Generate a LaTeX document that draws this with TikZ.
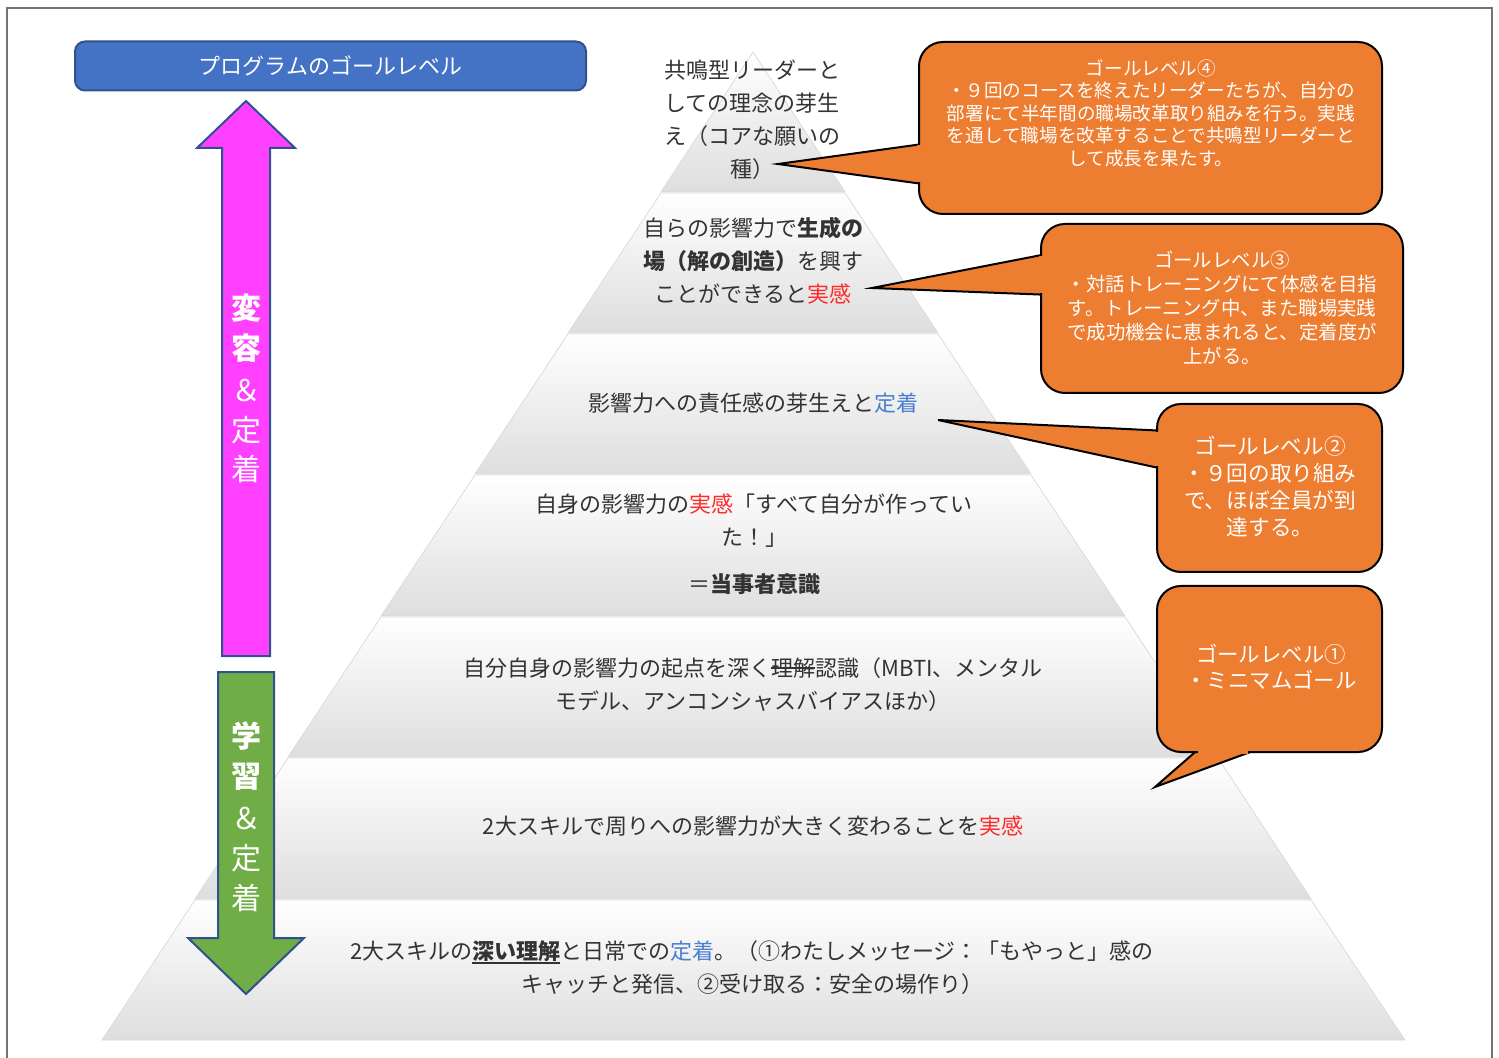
\documentclass[tikz,border=0pt]{standalone}
\usepackage{fontspec}
\setmainfont{Noto Sans CJK JP}
\newcommand{\mystrike}[1]{\begingroup\setbox0\hbox{#1}\rlap{\raisebox{0.33em}{\rule{\wd0}{0.08em}}}\box0\endgroup}
\newcommand{\myuline}[1]{\begingroup\setbox0\hbox{#1}\rlap{\raisebox{-0.22em}{\rule{\wd0}{0.09em}}}\box0\endgroup}
\definecolor{txt}{HTML}{333333}
\definecolor{orng}{HTML}{ED7D31}
\definecolor{titleblue}{HTML}{4472C4}
\definecolor{edgeblue}{HTML}{2F528F}
\definecolor{mag}{HTML}{FF40FF}
\definecolor{grn}{HTML}{70AD47}
\definecolor{redt}{HTML}{FF2A2A}
\definecolor{bluet}{HTML}{4A7FD0}
\tikzset{
  seg/.style={top color=white, middle color=white, bottom color=black!13, draw=black!14, line width=0.4pt},
  ptext/.style={text=txt, font=\fontsize{11}{16.5}\selectfont, align=center, inner sep=0pt},
  callout/.style={fill=orng, draw=black, line width=1pt, rounded corners=12pt},
  ctail/.style={fill=orng, draw=black, line width=1pt},
  ctext/.style={text=white, align=center, inner sep=0pt},
  arrowtext/.style={text=white, font=\fontsize{15}{20}\selectfont, inner sep=0pt},
}
\begin{document}
\begin{tikzpicture}[x=0.5pt,y=-0.5pt]
\useasboundingbox (0,0) rectangle (1499,1058);
% frame
\draw[black!55, line width=1pt] (7,1080) -- (7,8) -- (1492,8) -- (1492,1080);

% pyramid
\path[seg] (753,52) -- (845,192) -- (661,192) -- cycle;
\path[seg] (661,193) -- (845,193) -- (938,333) -- (568,333) -- cycle;
\path[seg] (568,334) -- (938,334) -- (1031,474) -- (475,474) -- cycle;
\path[seg] (475,475) -- (1031,475) -- (1125,616) -- (381,616) -- cycle;
\path[seg] (381,617) -- (1125,617) -- (1218,757) -- (288,757) -- cycle;
\path[seg] (288,758) -- (1218,758) -- (1311,899) -- (195,899) -- cycle;
\path[seg] (195,900) -- (1311,900) -- (1405,1040) -- (102,1040) -- cycle;

% title bar
\node[fill=titleblue, draw=edgeblue, line width=1pt, rounded corners=5pt, minimum width=511*0.5pt, minimum height=49*0.5pt, text=white, font=\fontsize{11}{13}\selectfont, inner sep=0pt] (title) at (330.5,66) {プログラムのゴールレベル};

% arrows
\path[fill=mag, draw=edgeblue, line width=1pt] (246,101) -- (295,148) -- (270,148) -- (270,656) -- (222,656) -- (222,148) -- (197,148) -- cycle;
\path[fill=grn, draw=edgeblue, line width=1pt] (218,672) -- (274,672) -- (274,938) -- (304,938) -- (246,994) -- (188,938) -- (218,938) -- cycle;
\node[arrowtext] (u1) at (246,308) {\bfseries 変};
\node[arrowtext] (u2) at (246,348) {\bfseries 容};
\node[arrowtext] (u3) at (246,390) {＆};
\node[arrowtext] (u4) at (246,430) {定};
\node[arrowtext] (u5) at (246,469) {着};
\node[arrowtext] (d1) at (246,736) {\bfseries 学};
\node[arrowtext] (d2) at (246,777) {\bfseries 習};
\node[arrowtext] (d3) at (246,818) {＆};
\node[arrowtext] (d4) at (246,858) {定};
\node[arrowtext] (d5) at (246,898) {着};

% pyramid texts
\node[ptext] (lv1) at (752,119.5) {共鳴型リーダーと\\しての理念の芽生\\え（コアな願いの\\種）};
\node[ptext] (lv2) at (753,261) {自らの影響力で\textbf{生成の}\\\textbf{場（解の創造）}を興す\\ことができると\textcolor{redt}{実感}};
\node[ptext] (lv3) at (753,403) {影響力への責任感の芽生えと\textcolor{bluet}{定着}};
\node[ptext] (lv4) at (754,520.5) {自身の影響力の\textcolor{redt}{実感}「すべて自分が作ってい\\た！」};
\node[ptext] (lv4b) at (754,584) {＝\textbf{当事者意識}};
\node[ptext] (lv5) at (753,684.5) {自分自身の影響力の起点を深く\mystrike{理解}認識（MBTI、メンタル\\モデル、アンコンシャスバイアスほか）};
\node[ptext] (lv6) at (753,826) {2大スキルで周りへの影響力が大きく変わることを\textcolor{redt}{実感}};
\node[ptext] (lv7) at (752,967.5) {2大スキルの\myuline{\textbf{深い理解}}と日常での\textcolor{bluet}{定着}。（①わたしメッセージ：「もやっと」感の\\キャッチと発信、②受け取る：安全の場作り）};

% callout 4
\path[ctail] (930,143) -- (778,164) -- (930,185);
\path[callout] (919,42) rectangle (1382,214);
\fill[orng] (917,145.5) rectangle (921.5,182.5);
\node[ctext, font=\fontsize{9.3}{11.25}\selectfont] (c4) at (1151,113) {ゴールレベル④\\・９回のコースを終えたリーダーたちが、自分の\\部署にて半年間の職場改革取り組みを行う。実践\\を通して職場を改革することで共鳴型リーダーと\\して成長を果たす。};

% callout 3
\path[ctail] (1052,253) -- (872,288) -- (1052,295);
\path[callout] (1041,224) rectangle (1403,393);
\fill[orng] (1039,256) rectangle (1043.5,293.5);
\node[ctext, font=\fontsize{9.7}{12}\selectfont] (c3) at (1222,308) {ゴールレベル③\\・対話トレーニングにて体感を目指\\す。トレーニング中、また職場実践\\で成功機会に恵まれると、定着度が\\上がる。};

% callout 2
\path[ctail] (1168,431) -- (938,420) -- (1168,470);
\path[callout] (1157,404) rectangle (1382,572);
\fill[orng] (1155,432) rectangle (1159.5,466.5);
\node[ctext, font=\fontsize{10.8}{13.5}\selectfont] (c2) at (1270,486.5) {ゴールレベル②\\・９回の取り組み\\で、ほぼ全員が到\\達する。};

% callout 1
\path[ctail] (1209,740) -- (1155,787) -- (1283,740);
\path[callout] (1157,586) rectangle (1382,752);
\fill[orng] (1197.5,750) rectangle (1247.5,754);
\node[ctext, font=\fontsize{10.7}{13}\selectfont] (c1) at (1271,667) {ゴールレベル①\\・ミニマムゴール};
\end{tikzpicture}
\end{document}
